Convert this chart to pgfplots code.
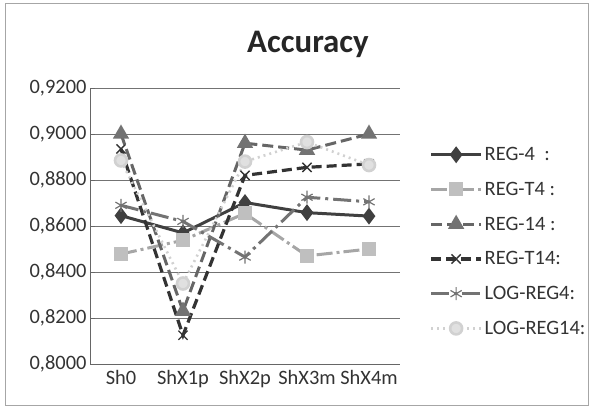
\documentclass[border=0pt]{standalone}
\usepackage{pgfplots}
\pgfplotsset{compat=1.18}
\usepackage{fontspec}
\setmainfont{Carlito}
\begin{document}
\begin{tikzpicture}
\useasboundingbox (0,0) rectangle (591bp,408bp);
\draw[gray!70, line width=0.8bp] (5bp,3bp) rectangle (588bp,405bp);
\node[font=\fontsize{33}{38}\selectfont\bfseries, text=black!85] at (308bp,364bp) {Accuracy};
\begin{axis}[
  at={(90bp,44bp)}, anchor=south west,
  scale only axis, width=310bp, height=276bp,
  xmin=-0.5, xmax=4.5, ymin=0.80, ymax=0.92,
  xtick={0,1,2,3,4}, xticklabels={Sh0,ShX1p,ShX2p,ShX3m,ShX4m},
  ytick={0.80,0.82,0.84,0.86,0.88,0.90,0.92},
  extra x ticks={-0.5,0.5,1.5,2.5,3.5,4.5}, extra x tick labels={},
  extra x tick style={major tick length=5bp, tick style={black!60}, grid=none},
  major x tick style={draw=none},
  ymajorgrids, grid style={black!55, line width=0.8bp},
  axis x line*=bottom, axis y line*=left,
  axis line style={black!60, line width=0.8bp},
  ytick style={black!60}, major tick length=5bp,
  tick label style={font=\fontsize{20.5}{24}\selectfont, text=black!80},
  yticklabel style={/pgf/number format/.cd, fixed, fixed zerofill, precision=4, use comma, assume math mode=true},
  xticklabel style={yshift=-3bp},
  scaled y ticks=false,
  clip=false,
  legend style={at={(axis description cs:1.085,0.80)}, anchor=north west, draw=none, fill=none,
    font=\fontsize{20.5}{24}\selectfont, text=black!80, row sep=16bp, cells={anchor=west},
    /tikz/every even column/.append style={column sep=2bp}},
  legend image code/.code={\draw[#1, mark repeat=2, mark phase=2] plot coordinates {(0bp,0bp) (25bp,0bp) (50bp,0bp)};},
]
\addplot[color=black!75, line width=3bp, mark=diamond*, mark size=6bp, mark options={solid, fill=black!75}]
  coordinates {(0,0.8645) (1,0.8570) (2,0.8702) (3,0.8658) (4,0.8643)};
\addlegendentry{REG-4\ \ :}
\addplot[color=black!35, line width=3bp, dash pattern=on 16bp off 4bp on 3bp off 4bp, mark=square*, mark size=5.5bp, mark options={solid, fill=black!25, draw=black!25}]
  coordinates {(0,0.8478) (1,0.8538) (2,0.8655) (3,0.8470) (4,0.8500)};
\addlegendentry{REG-T4 :}
\addplot[color=black!60, line width=3bp, dash pattern=on 11bp off 5bp, mark=triangle*, mark size=6.5bp, mark options={solid, fill=black!55, draw=black!55}]
  coordinates {(0,0.9000) (1,0.8230) (2,0.8960) (3,0.8930) (4,0.9000)};
\addlegendentry{REG-14 :}
\addplot[color=black!80, line width=3.2bp, dash pattern=on 10bp off 5bp, mark=x, mark size=6.5bp, mark options={solid, line width=1.4bp}]
  coordinates {(0,0.8935) (1,0.8125) (2,0.8820) (3,0.8855) (4,0.8870)};
\addlegendentry{REG-T14:}
\addplot[color=black!55, line width=3bp, dash pattern=on 18bp off 5bp on 3bp off 5bp, mark=asterisk, mark size=6.5bp, mark options={solid, line width=1.2bp}]
  coordinates {(0,0.8690) (1,0.8620) (2,0.8465) (3,0.8725) (4,0.8705)};
\addlegendentry{LOG-REG4:}
\addplot[color=black!18, line width=2.6bp, dash pattern=on 2bp off 4bp, mark=*, mark size=6bp, mark options={solid, fill=black!12, draw=black!18}]
  coordinates {(0,0.8885) (1,0.8350) (2,0.8880) (3,0.8965) (4,0.8865)};
\addlegendentry{LOG-REG14:}
\end{axis}
\end{tikzpicture}
\end{document}
